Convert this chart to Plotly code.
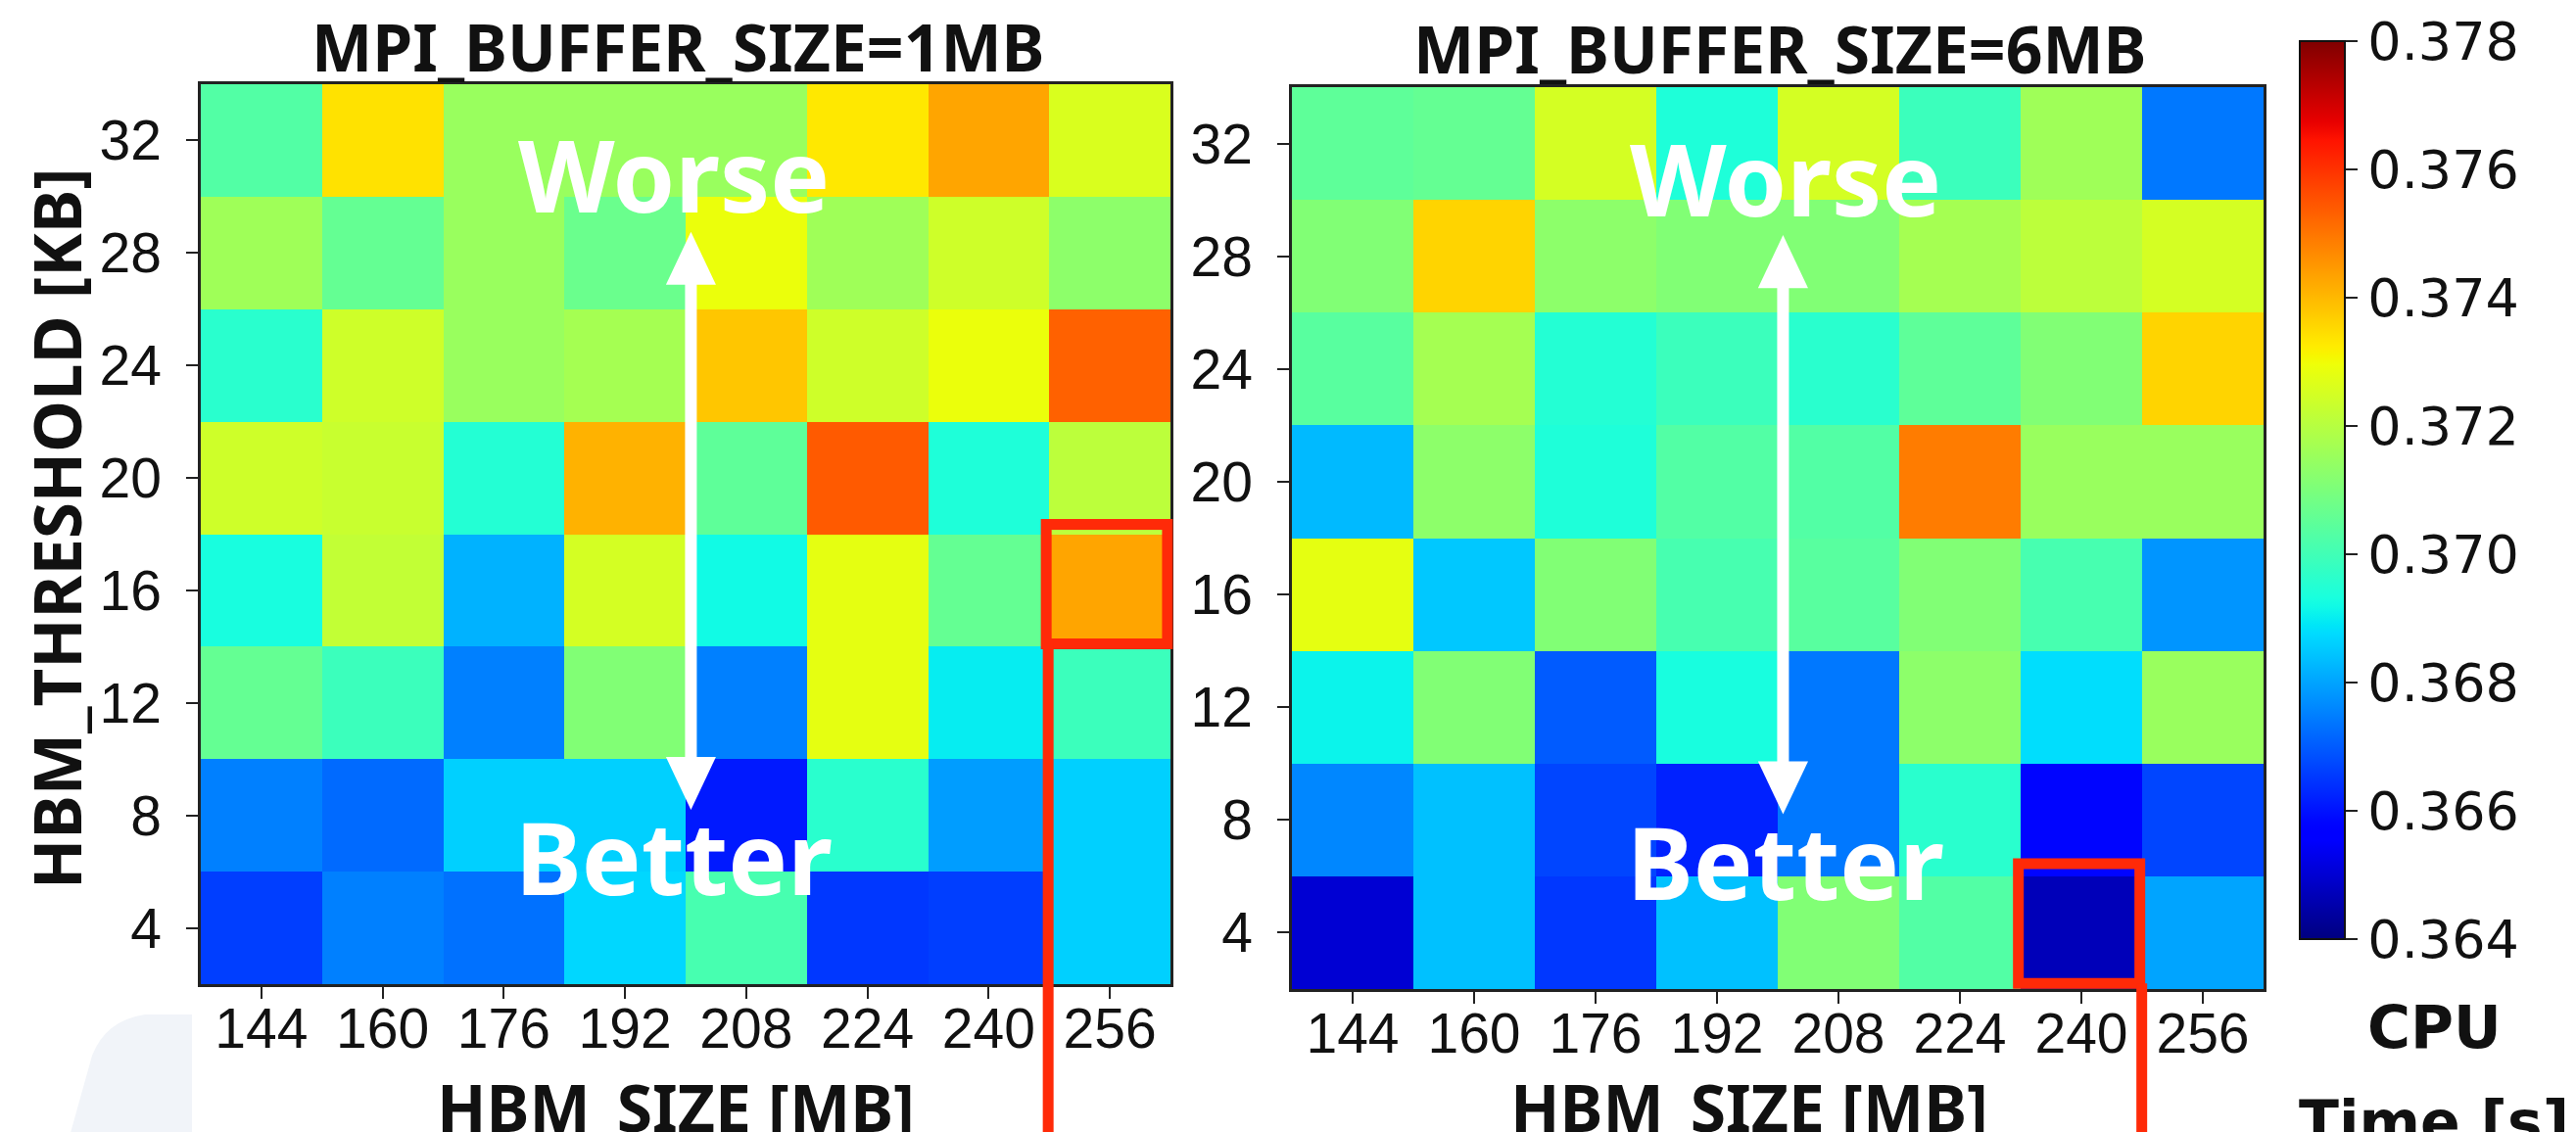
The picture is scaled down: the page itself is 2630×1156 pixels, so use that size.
import numpy as np
import plotly.graph_objects as go

# ---------------- data ----------------
hbm_size = [144, 160, 176, 192, 208, 224, 240, 256]          # MB (x)
hbm_threshold = [32, 28, 24, 20, 16, 12, 8, 4]               # KB (y), top -> bottom

# CPU time [s], rows follow hbm_threshold (top -> bottom), columns follow hbm_size
cpu_time_1mb = [
    [0.3703, 0.3734, 0.3715, 0.3715, 0.3715, 0.3733, 0.3743, 0.3726],
    [0.3716, 0.3706, 0.3715, 0.3707, 0.3729, 0.3716, 0.3724, 0.3713],
    [0.3696, 0.3724, 0.3715, 0.3717, 0.3738, 0.3724, 0.3729, 0.3753],
    [0.3724, 0.3723, 0.3695, 0.3741, 0.3705, 0.3754, 0.3694, 0.3721],
    [0.3693, 0.3722, 0.3682, 0.3725, 0.3692, 0.3728, 0.3706, 0.3743],
    [0.3706, 0.3699, 0.3675, 0.3711, 0.3675, 0.3728, 0.3690, 0.3699],
    [0.3675, 0.3672, 0.3686, 0.3686, 0.3661, 0.3696, 0.3679, 0.3686],
    [0.3666, 0.3675, 0.3673, 0.3687, 0.3701, 0.3665, 0.3666, 0.3686],
]
cpu_time_6mb = [
    [0.3705, 0.3706, 0.3725, 0.3694, 0.3725, 0.3699, 0.3716, 0.3674],
    [0.3711, 0.3736, 0.3713, 0.3711, 0.3711, 0.3717, 0.3721, 0.3725],
    [0.3704, 0.3717, 0.3695, 0.3699, 0.3696, 0.3705, 0.3711, 0.3736],
    [0.3683, 0.3713, 0.3694, 0.3703, 0.3703, 0.3749, 0.3715, 0.3715],
    [0.3728, 0.3685, 0.3711, 0.3701, 0.3704, 0.3711, 0.3701, 0.3678],
    [0.3691, 0.3711, 0.3670, 0.3693, 0.3674, 0.3713, 0.3688, 0.3715],
    [0.3676, 0.3684, 0.3667, 0.3662, 0.3674, 0.3696, 0.3658, 0.3667],
    [0.3650, 0.3684, 0.3665, 0.3684, 0.3711, 0.3703, 0.3647, 0.3680],
]
cbar_ticks = [0.364, 0.366, 0.368, 0.370, 0.372, 0.374, 0.376, 0.378]
highlight_1mb = (256, 16)   # (HBM size, threshold) boxed in left panel
highlight_6mb = (240, 4)    # boxed in right panel

# ---------------- style ----------------
W, H = 2630, 1156

# matplotlib "jet"
r_pts = ([0, 0.35, 0.66, 0.89, 1], [0, 0, 1, 1, 0.5])
g_pts = ([0, 0.125, 0.375, 0.64, 0.91, 1], [0, 0, 1, 1, 0, 0])
b_pts = ([0, 0.11, 0.34, 0.65, 1], [0.5, 1, 1, 0, 0])
jet = []
for t in np.linspace(0, 1, 101):
    r = np.interp(t, *r_pts); g = np.interp(t, *g_pts); b = np.interp(t, *b_pts)
    jet.append([float(t), f"rgb({int(round(r*255))},{int(round(g*255))},{int(round(b*255))})"])

TITLE_FONT = dict(family="Noto Sans", size=66, color="#111", weight=700)
TICK_FONT = dict(family="Liberation Sans, Arial", size=57, color="#111")
RED = "#ff2a08"

# pixel boxes of the two panels (left, top, right, bottom)
panels = {
    "L": (197, 78, 1187, 997),
    "R": (1311, 81, 2303, 1002),
}
xr = [136, 264]
yr = [2, 34]


def dom(box):
    l, t, r, b = box
    return [l / W, r / W], [1 - b / H, 1 - t / H]


def to_paper(box, xv, yv):
    l, t, r, b = box
    fx = (xv - xr[0]) / (xr[1] - xr[0])
    fy = (yv - yr[0]) / (yr[1] - yr[0])
    return (l + fx * (r - l)) / W, 1 - (b - fy * (b - t)) / H


def P(px, py):
    return px / W, 1 - py / H


fig = go.Figure()
fig.add_trace(go.Heatmap(x=hbm_size, y=hbm_threshold, z=cpu_time_1mb,
                         coloraxis="coloraxis", xaxis="x", yaxis="y"))
fig.add_trace(go.Heatmap(x=hbm_size, y=hbm_threshold, z=cpu_time_6mb,
                         coloraxis="coloraxis", xaxis="x2", yaxis="y2"))

axis_common = dict(showgrid=False, zeroline=False, showline=True, mirror=True,
                   linecolor="#222", linewidth=2.5, ticks="outside", ticklen=12,
                   tickwidth=2, tickcolor="#222", tickfont=TICK_FONT)
xd1, yd1 = dom(panels["L"])
xd2, yd2 = dom(panels["R"])
fig.update_layout(
    template="none",
    width=W, height=H, autosize=False,
    margin=dict(l=0, r=0, t=0, b=0),
    paper_bgcolor="white", plot_bgcolor="white",
    xaxis=dict(domain=xd1, range=xr, tickvals=hbm_size, anchor="y", ticklabelstandoff=-18, **axis_common),
    yaxis=dict(domain=yd1, range=yr, tickvals=hbm_threshold, anchor="x", ticklabelstandoff=14, **axis_common),
    xaxis2=dict(domain=xd2, range=xr, tickvals=hbm_size, anchor="y2", ticklabelstandoff=-18, **axis_common),
    yaxis2=dict(domain=yd2, range=yr, tickvals=hbm_threshold, anchor="x2", ticklabelstandoff=14, **axis_common),
    coloraxis=dict(
        colorscale=jet, cmin=cbar_ticks[0], cmax=cbar_ticks[-1],
        colorbar=dict(
            x=2340 / W, xanchor="left", xpad=0,
            y=1 - 34 / H, yanchor="top", ypad=0,
            len=(951 - 34) / H, lenmode="fraction",
            thickness=46, thicknessmode="pixels",
            outlinewidth=2, outlinecolor="#111",
            ticks="outside", ticklen=12, tickwidth=2, tickcolor="#222",
            tickvals=cbar_ticks, ticktext=[f"{v:.3f}" for v in cbar_ticks],
            tickfont=dict(family="DejaVu Sans", size=54, color="#111"),
        ),
    ),
    showlegend=False,
)

ann = []
# panel titles
ann.append(dict(text="MPI_BUFFER_SIZE=1MB", x=684 / W, y=1 - 39 / H, xref="paper", yref="paper",
                showarrow=False, xanchor="center", yanchor="middle", font=TITLE_FONT))
ann.append(dict(text="MPI_BUFFER_SIZE=6MB", x=1809 / W, y=1 - 41 / H, xref="paper", yref="paper",
                showarrow=False, xanchor="center", yanchor="middle", font=TITLE_FONT))
# axis titles
ann.append(dict(text="HBM_THRESHOLD [KB]", x=49 / W, y=1 - 532 / H, xref="paper", yref="paper",
                showarrow=False, xanchor="center", yanchor="middle", textangle=-90,
                font=dict(TITLE_FONT, size=67)))
ann.append(dict(text="HBM_SIZE [MB]", x=682 / W, y=1 - 1122 / H, xref="paper", yref="paper",
                showarrow=False, xanchor="center", yanchor="middle", font=TITLE_FONT))
ann.append(dict(text="HBM_SIZE [MB]", x=1778 / W, y=1 - 1122 / H, xref="paper", yref="paper",
                showarrow=False, xanchor="center", yanchor="middle", font=TITLE_FONT))
# colorbar title
CB_FONT = dict(family="DejaVu Sans", size=60, color="#111", weight=700)
ann.append(dict(text="CPU", x=2477 / W, y=1 - 1041 / H, xref="paper", yref="paper",
                showarrow=False, xanchor="center", yanchor="middle", font=CB_FONT))
ann.append(dict(text="Time [s]", x=2477 / W, y=1 - 1138 / H, xref="paper", yref="paper",
                showarrow=False, xanchor="center", yanchor="middle", font=CB_FONT))
# Worse / Better labels
WB_FONT = dict(family="Noto Sans", size=102, color="white", weight=700)
for xa, ya, xc in (("x", "y", 198.5), ("x2", "y2", 201.0)):
    ann.append(dict(text="Worse", x=xc, y=30.8, xref=xa, yref=ya, showarrow=False,
                    xanchor="center", yanchor="middle", font=WB_FONT))
    ann.append(dict(text="Better", x=xc, y=6.55, xref=xa, yref=ya, showarrow=False,
                    xanchor="center", yanchor="middle", font=WB_FONT))
fig.update_layout(annotations=ann)

shapes = []
# faint background watermark at the bottom-left (light blue blob)
pts = [P(140, 1028), P(100, 1034), P(86, 1070), P(62, 1156), P(188, 1156), P(188, 1028)]
shapes.append(dict(type="path", xref="paper", yref="paper", layer="below",
                   fillcolor="#f1f4f9", line=dict(width=0),
                   path=(f"M {pts[0][0]} {pts[0][1]} Q {pts[1][0]} {pts[1][1]} {pts[2][0]} {pts[2][1]} "
                         f"L {pts[3][0]} {pts[3][1]} L {pts[4][0]} {pts[4][1]} "
                         f"L {pts[5][0]} {pts[5][1]} Z")))

# double-headed white arrows
for xa, ya in (("x", "y"), ("x2", "y2")):
    ax_x = 200.7
    top_tip, bot_tip, head_len, head_hw = 28.75, 8.2, 1.88, 3.3
    shapes.append(dict(type="line", xref=xa, yref=ya, x0=ax_x, x1=ax_x,
                       y0=bot_tip + head_len * 0.8, y1=top_tip - head_len * 0.8,
                       line=dict(color="white", width=12), layer="above"))
    shapes.append(dict(type="path", xref=xa, yref=ya, layer="above", fillcolor="white",
                       line=dict(width=0),
                       path=f"M {ax_x - head_hw} {top_tip - head_len} L {ax_x} {top_tip} "
                            f"L {ax_x + head_hw} {top_tip - head_len} Z"))
    shapes.append(dict(type="path", xref=xa, yref=ya, layer="above", fillcolor="white",
                       line=dict(width=0),
                       path=f"M {ax_x - head_hw} {bot_tip + head_len} L {ax_x} {bot_tip} "
                            f"L {ax_x + head_hw} {bot_tip + head_len} Z"))

# red highlight boxes + leader lines (paper coords so they are not clipped)
def red_box(box, cell, line_side, dx, dy):
    cx, cy = cell
    x0, y0 = to_paper(box, cx - 8 + dx, cy - 2 + dy)
    x1, y1 = to_paper(box, cx + 8 + dx, cy + 2.25 + dy)
    shapes.append(dict(type="rect", xref="paper", yref="paper", x0=x0, x1=x1, y0=y0, y1=y1,
                       line=dict(color=RED, width=11), layer="above"))
    lx = (x0 if line_side == "left" else x1) + 2 / W
    shapes.append(dict(type="line", xref="paper", yref="paper", x0=lx, x1=lx, y0=0, y1=y0,
                       line=dict(color=RED, width=11), layer="above"))

red_box(panels["L"], highlight_1mb, "left", -0.4, 0.1)
red_box(panels["R"], highlight_6mb, "right", -0.3, 0.2)
fig.update_layout(shapes=shapes)

fig.write_html("out.html")
